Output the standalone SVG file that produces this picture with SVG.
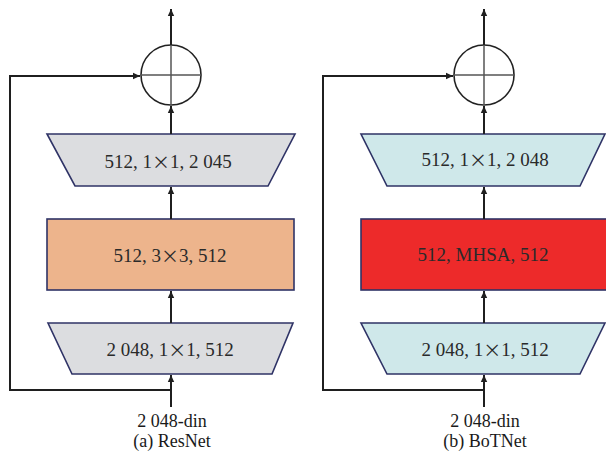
<svg xmlns="http://www.w3.org/2000/svg" width="606" height="452" viewBox="0 0 606 452">
  <style>
    .blk { stroke: #2f3366; stroke-width: 1.6; }
    .gray { fill: #dcdde0; }
    .peach { fill: #edb48c; }
    .cyan { fill: #cfe8ea; }
    .red { fill: #ed2a2a; }
    .lbl { font-family: "Liberation Serif", "DejaVu Serif", serif; font-size: 19px; fill: #2a2a2a; text-anchor: middle; dominant-baseline: central; }
    .x { font-family: "Noto Sans CJK SC", "Liberation Serif", serif; font-size: 18px; }
    .cap { font-family: "Liberation Serif", "DejaVu Serif", serif; font-size: 18px; fill: #1a1a1a; text-anchor: middle; }
    .wire { fill: none; stroke: #1f1f1f; stroke-width: 2; }
    .sum { fill: #ffffff; stroke: #222222; stroke-width: 1.6; }
    .cross { stroke: #555555; stroke-width: 1.5; }
  </style>
  <defs>
    <marker id="arr" markerWidth="8" markerHeight="8" refX="7" refY="4" orient="auto" markerUnits="userSpaceOnUse">
      <path d="M0,0.8 L7,4 L0,7.2 Z" fill="#1f1f1f"/>
    </marker>
  </defs>

  <!-- (a) ResNet bottleneck -->
  <g id="resnet-sum">
    <circle class="sum" cx="171" cy="75" r="30"/>
    <line class="cross" x1="141" y1="75" x2="201" y2="75"/>
    <line class="cross" x1="171" y1="45" x2="171" y2="105"/>
  </g>
  <g id="resnet-conv3">
    <polygon class="blk gray" points="47,134 295,134 268,186 75,186"/>
    <text class="lbl" x="168" y="161">512, 1<tspan class="x">×</tspan>1, 2 045</text>
  </g>
  <g id="resnet-conv2">
    <rect class="blk peach" x="47" y="219" width="247" height="71"/>
    <text class="lbl" x="170" y="255">512, 3<tspan class="x">×</tspan>3, 512</text>
  </g>
  <g id="resnet-conv1">
    <polygon class="blk gray" points="48,323 293,323 272,374 72,374"/>
    <text class="lbl" x="170" y="349">2 048, 1<tspan class="x">×</tspan>1, 512</text>
  </g>
  <g id="resnet-caption">
    <text class="cap" x="172" y="427">2 048-din</text>
    <text class="cap" x="172" y="447">(a) ResNet</text>
  </g>

  <!-- (b) BoTNet bottleneck -->
  <g id="botnet-sum">
    <circle class="sum" cx="484" cy="75" r="30"/>
    <line class="cross" x1="454" y1="75" x2="514" y2="75"/>
    <line class="cross" x1="484" y1="45" x2="484" y2="105"/>
  </g>
  <g id="botnet-conv3">
    <polygon class="blk cyan" points="361,134 605,134 580,186 387,186"/>
    <text class="lbl" x="485" y="159">512, 1<tspan class="x">×</tspan>1, 2 048</text>
  </g>
  <g id="botnet-mhsa">
    <rect class="blk red" x="361" y="219" width="246" height="71"/>
    <text class="lbl" x="483" y="254">512, MHSA, 512</text>
  </g>
  <g id="botnet-conv1">
    <polygon class="blk cyan" points="361,323 605,323 580,374 387,374"/>
    <text class="lbl" x="485" y="349">2 048, 1<tspan class="x">×</tspan>1, 512</text>
  </g>
  <g id="botnet-caption">
    <text class="cap" x="485" y="427">2 048-din</text>
    <text class="cap" x="485" y="447">(b) BoTNet</text>
  </g>

  <!-- connectors -->
  <g id="connectors">
    <!-- ResNet -->
    <line class="wire" x1="171" y1="407" x2="171" y2="375" marker-end="url(#arr)"/>
    <line class="wire" x1="171" y1="323" x2="171" y2="291" marker-end="url(#arr)"/>
    <line class="wire" x1="171" y1="219" x2="171" y2="187" marker-end="url(#arr)"/>
    <line class="wire" x1="171" y1="134" x2="171" y2="106" marker-end="url(#arr)"/>
    <line class="wire" x1="171" y1="45" x2="171" y2="9" marker-end="url(#arr)"/>
    <polyline class="wire" points="171,390 10,390 10,76 140,76" marker-end="url(#arr)"/>
    <!-- BoTNet -->
    <line class="wire" x1="484" y1="407" x2="484" y2="375" marker-end="url(#arr)"/>
    <line class="wire" x1="484" y1="323" x2="484" y2="291" marker-end="url(#arr)"/>
    <line class="wire" x1="484" y1="219" x2="484" y2="187" marker-end="url(#arr)"/>
    <line class="wire" x1="484" y1="134" x2="484" y2="106" marker-end="url(#arr)"/>
    <line class="wire" x1="484" y1="45" x2="484" y2="9" marker-end="url(#arr)"/>
    <polyline class="wire" points="484,390 323,390 323,76 453,76" marker-end="url(#arr)"/>
  </g>
</svg>
